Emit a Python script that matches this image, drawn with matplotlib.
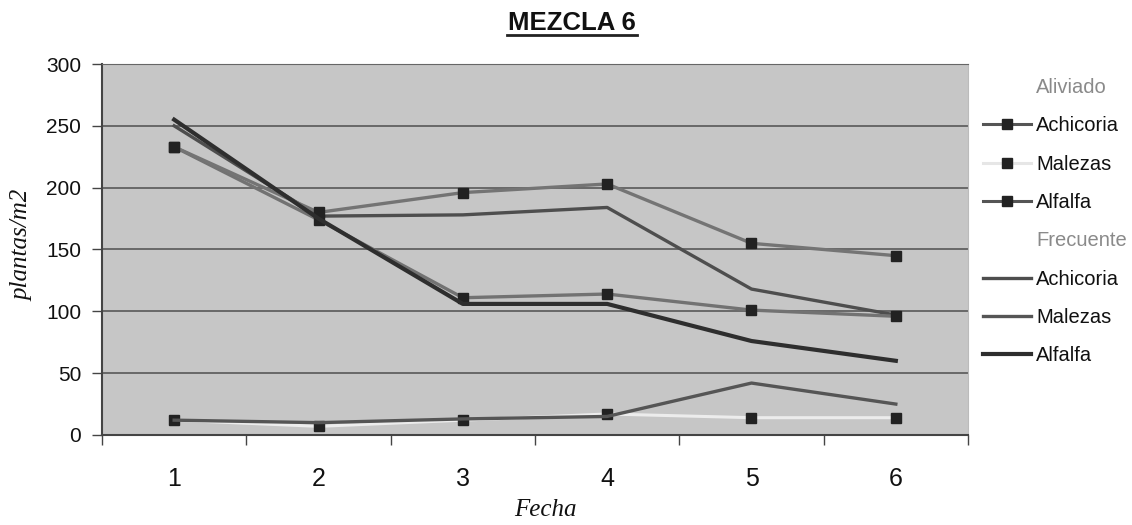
import matplotlib
matplotlib.use("Agg")
import matplotlib.pyplot as plt
from matplotlib.lines import Line2D

# data (plantas/m2 per fecha)
fechas = [1, 2, 3, 4, 5, 6]
aliviado_achicoria = [233, 174, 111, 114, 101, 96]
aliviado_malezas = [12, 7, 12, 17, 14, 14]
aliviado_alfalfa = [233, 180, 196, 203, 155, 145]
frecuente_achicoria = [250, 177, 178, 184, 118, 97]
frecuente_malezas = [12, 10, 13, 15, 42, 25]
frecuente_alfalfa = [255, 175, 106, 106, 76, 60]
y_ticks = [0, 50, 100, 150, 200, 250, 300]

W, H = 1132, 525
fig = plt.figure(figsize=(W / 100, H / 100), dpi=100)
ax = fig.add_axes([102 / W, 1 - 435 / H, 866 / W, 371 / H])
ax.set_facecolor("#c6c6c6")

# frecuente series: lines only
ax.plot(fechas, frecuente_malezas, color="#555555", lw=2.4, zorder=3)
ax.plot(fechas, frecuente_achicoria, color="#4e4e4e", lw=2.4, zorder=3)
ax.plot(fechas, frecuente_alfalfa, color="#2e2e2e", lw=3.0, zorder=4)

# aliviado series: lines with square markers
mk = dict(marker="s", ms=6.5, mfc="#222222", mec="#222222")
ax.plot(fechas, aliviado_malezas, color="#ececec", lw=2.2, zorder=2.5, **mk)
ax.plot(fechas, aliviado_achicoria, color="#727272", lw=2.4, zorder=3, **mk)
ax.plot(fechas, aliviado_alfalfa, color="#747474", lw=2.4, zorder=3, **mk)

ax.set_xlim(0.5, 6.5)
ax.set_ylim(0, 300)
ax.set_yticks(y_ticks)
ax.set_xticks(fechas)
ax.set_xticks([x + 0.5 for x in range(0, 7)], minor=True)
ax.grid(axis="y", color="#585858", lw=1.2)
ax.set_axisbelow(True)

ax.tick_params(axis="x", which="major", length=0, pad=23, labelsize=18)
ax.tick_params(axis="x", which="minor", length=7, width=1, color="#444444")
ax.tick_params(axis="y", length=7, width=1, color="#444444", pad=8, labelsize=15)
for lab in ax.get_xticklabels() + ax.get_yticklabels():
    lab.set_family("Liberation Sans")
    lab.set_color("#111111")

for side in ["left", "bottom"]:
    ax.spines[side].set_color("#444444")
    ax.spines[side].set_linewidth(1.5)
ax.spines["top"].set_color("#666666")
ax.spines["right"].set_color("#bbbbbb")

fig.text(545 / W, 1 - 510 / H, "Fecha", ha="center", va="center",
         family="Liberation Serif", style="italic", fontsize=18, color="#111111")
fig.text(22 / W, 1 - 245 / H, "plantas/m2", ha="center", va="center", rotation=90,
         family="Liberation Serif", style="italic", fontsize=18, color="#111111")

fig.text(572 / W, 1 - 23 / H, "MEZCLA 6", ha="center", va="center",
         family="Liberation Sans", weight="bold", fontsize=18.5, color="#111111")
fig.add_artist(Line2D([507 / W, 637 / W], [1 - 35 / H, 1 - 35 / H],
                      color="#222222", lw=2))

# legend with group headers
blank = Line2D([], [], color="none")
handles = [
    blank,
    Line2D([], [], color="#555555", lw=2.2, **mk),
    Line2D([], [], color="#e6e6e6", lw=2.2, **mk),
    Line2D([], [], color="#555555", lw=2.2, **mk),
    blank,
    Line2D([], [], color="#4e4e4e", lw=2.4),
    Line2D([], [], color="#555555", lw=2.4),
    Line2D([], [], color="#2e2e2e", lw=3.0),
]
labels = ["Aliviado", "Achicoria", "Malezas", "Alfalfa",
          "Frecuente", "Achicoria", "Malezas", "Alfalfa"]
leg = fig.legend(handles, labels, loc="upper left",
                 bbox_to_anchor=(983 / W, 1 - 78 / H),
                 frameon=False, prop={"family": "Liberation Sans", "size": 14.5},
                 handlelength=2.4, handletextpad=0.25, labelspacing=0.96,
                 borderaxespad=0, borderpad=0)
for i, txt in enumerate(leg.get_texts()):
    txt.set_color("#8a8a8a" if labels[i] in ("Aliviado", "Frecuente") else "#111111")

fig.savefig("out.png", dpi=100, facecolor="white")
